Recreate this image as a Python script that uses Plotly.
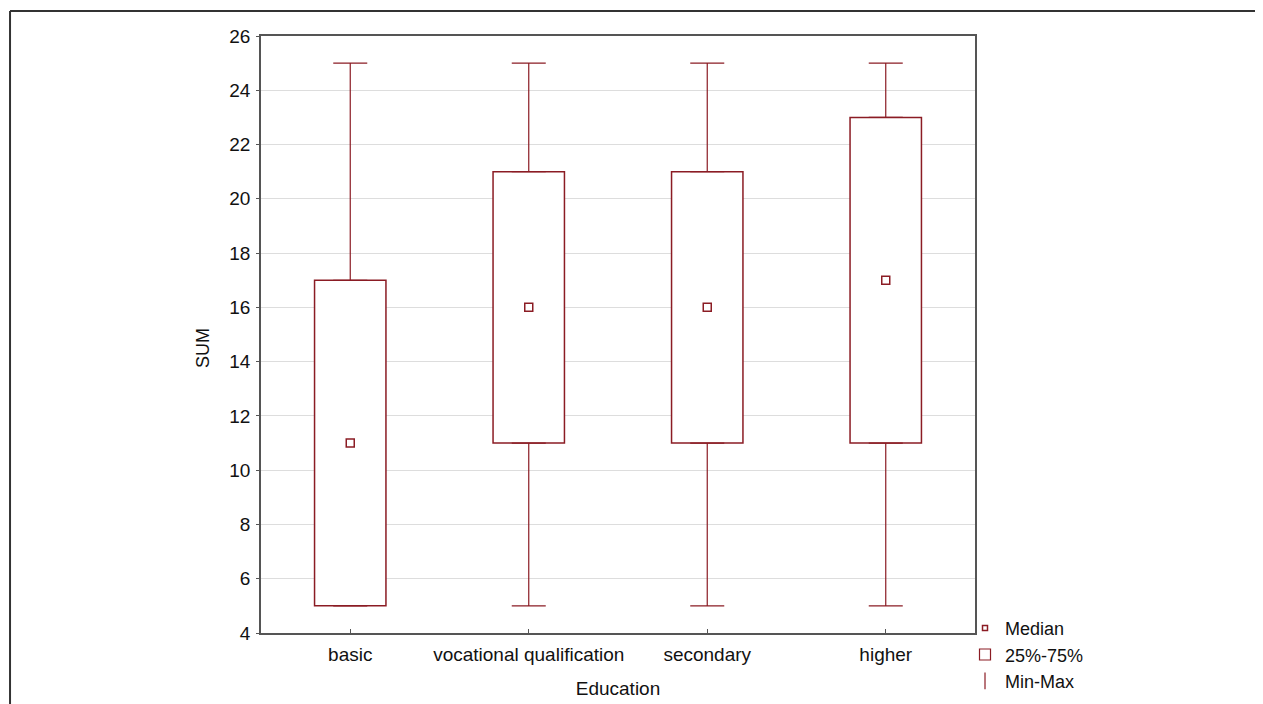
import plotly.graph_objects as go

categories = ["basic", "vocational qualification", "secondary", "higher"]
minimum = [5, 5, 5, 5]
q1 = [5, 11, 11, 11]
median = [11, 16, 16, 17]
q3 = [17, 21, 21, 23]
maximum = [25, 25, 25, 25]
y_ticks = [4, 6, 8, 10, 12, 14, 16, 18, 20, 22, 24, 26]

RED = "#8b1c24"
FONT = "Liberation Sans, Arial, sans-serif"

fig = go.Figure()

# upper whiskers
fig.add_trace(go.Scatter(
    x=categories, y=q3, mode="markers",
    marker=dict(size=1, color="rgba(0,0,0,0)"),
    error_y=dict(type="data", symmetric=False,
                 array=[mx - a for mx, a in zip(maximum, q3)],
                 arrayminus=[0] * len(categories),
                 color=RED, thickness=1.2, width=17),
    showlegend=False, hoverinfo="skip"))
# lower whiskers
fig.add_trace(go.Scatter(
    x=categories, y=q1, mode="markers",
    marker=dict(size=1, color="rgba(0,0,0,0)"),
    error_y=dict(type="data", symmetric=False,
                 array=[0] * len(categories),
                 arrayminus=[a - mn for a, mn in zip(q1, minimum)],
                 color=RED, thickness=1.2, width=17),
    showlegend=False, hoverinfo="skip"))

# boxes 25%-75%
fig.add_trace(go.Bar(
    x=categories, base=q1, y=[b - a for a, b in zip(q1, q3)],
    width=0.4, marker=dict(color="white", line=dict(color=RED, width=1.5)),
    name="25%-75%", showlegend=False))

# medians
fig.add_trace(go.Scatter(
    x=categories, y=median, mode="markers",
    marker=dict(symbol="square-open", size=8, color=RED, line=dict(width=1.5)),
    name="Median", showlegend=False))

# legend entries
fig.add_trace(go.Scatter(
    x=[None], y=[None], mode="markers", name="Median",
    marker=dict(symbol="square-open", size=5, color=RED, line=dict(width=1.5))))
fig.add_trace(go.Scatter(
    x=[None], y=[None], mode="markers", name="25%-75%",
    marker=dict(symbol="square-open", size=11, color=RED, line=dict(width=1.2))))
fig.add_trace(go.Scatter(
    x=[None], y=[None], mode="markers", name="Min-Max",
    marker=dict(symbol="line-ns-open", size=12, color=RED, line=dict(width=1.2))))

# outer frame
fig.add_shape(type="line", xref="paper", yref="paper",
              x0=-0.3515, x1=1.45, y0=1.0417, y1=1.0417,
              line=dict(color="#333333", width=2))
fig.add_shape(type="line", xref="paper", yref="paper",
              x0=-0.3515, x1=-0.3515, y0=1.0417, y1=-0.2,
              line=dict(color="#333333", width=2))

# y-axis title
fig.add_annotation(text="SUM", textangle=-90, xref="paper", yref="paper",
                   x=-0.0812, y=0.4775, xanchor="center", yanchor="middle",
                   showarrow=False, font=dict(size=18))

fig.update_layout(
    width=1263, height=704,
    margin=dict(l=253, r=296, t=28, b=77),
    paper_bgcolor="white", plot_bgcolor="white",
    font=dict(family=FONT, size=16, color="#111111"),
    barmode="overlay",
    legend=dict(x=0.986, y=-0.0367, xanchor="left", yanchor="middle",
                font=dict(size=18), tracegroupgap=0, itemsizing="trace",
                bgcolor="rgba(0,0,0,0)"),
    xaxis=dict(title=dict(text="Education", standoff=18),
               range=[-0.5, 3.5], showgrid=False,
               showline=True, linecolor="#555555", linewidth=1.5, mirror=True,
               ticks="inside", ticklen=4, tickcolor="#555555",
               tickfont=dict(size=19), ticklabelstandoff=3),
    yaxis=dict(range=[4, 26], tickvals=y_ticks,
               showgrid=True, gridcolor="#dddddd", gridwidth=1,
               showline=True, linecolor="#555555", linewidth=1.5, mirror=True,
               ticks="outside", ticklen=3, tickcolor="#555555", zeroline=False,
               tickfont=dict(size=19), ticklabelstandoff=2),
)

fig.write_html("out.html")
